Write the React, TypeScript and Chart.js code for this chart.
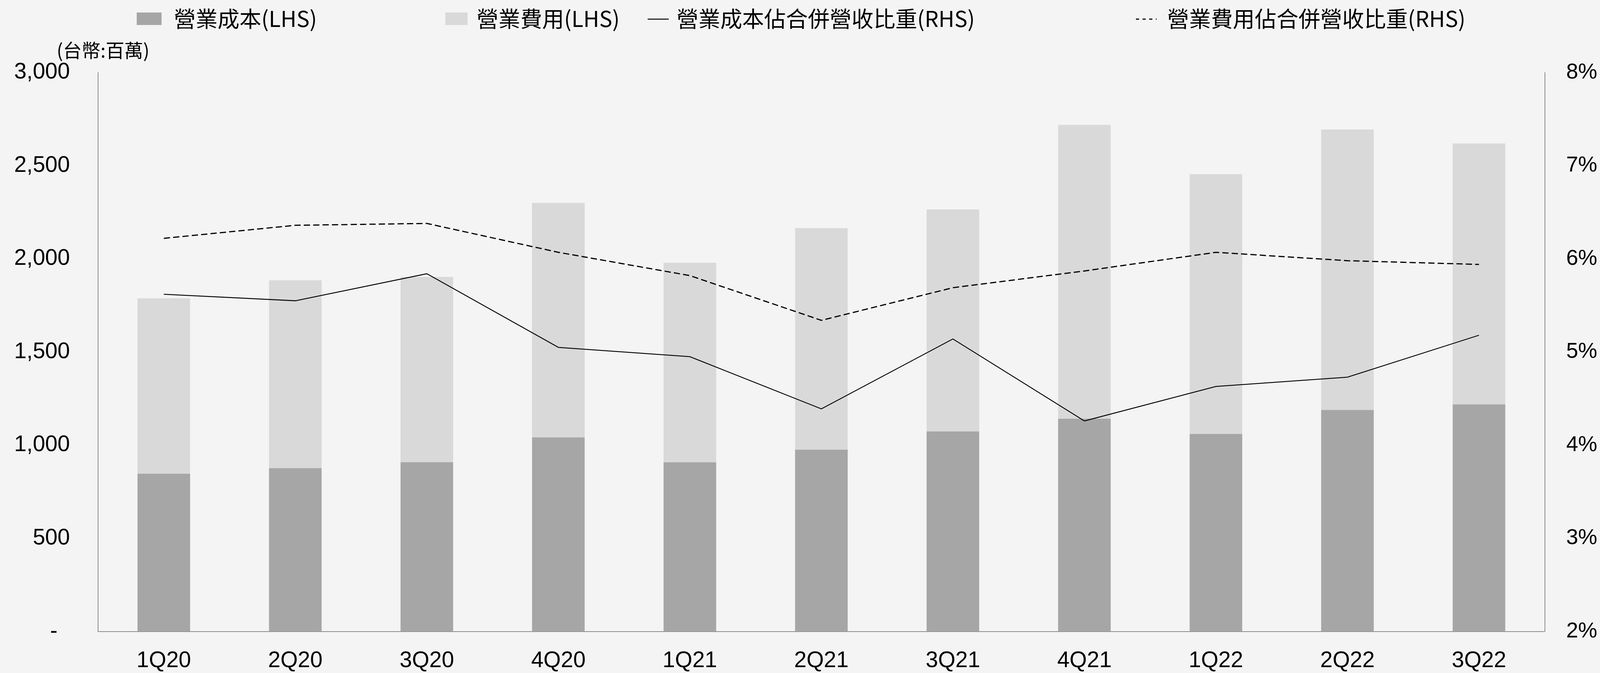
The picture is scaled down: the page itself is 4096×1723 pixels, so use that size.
import React, { useEffect, useRef } from 'react';
import { Chart, registerables } from 'chart.js';

Chart.register(...registerables);

// ---------------- data ----------------
const categories = ['1Q20', '2Q20', '3Q20', '4Q20', '1Q21', '2Q21', '3Q21', '4Q21', '1Q22', '2Q22', '3Q22'];
const costValues = [847, 877, 909, 1042, 908, 976, 1074, 1142, 1060, 1189, 1219];
const expenseValues = [941, 1008, 994, 1258, 1071, 1189, 1191, 1577, 1394, 1505, 1400];
const costRatio = [5.62, 5.55, 5.84, 5.05, 4.95, 4.39, 5.14, 4.26, 4.63, 4.73, 5.18];
const expenseRatio = [6.22, 6.36, 6.38, 6.07, 5.82, 5.34, 5.69, 5.87, 6.07, 5.98, 5.94];
const seriesLabels = ['營業成本(LHS)', '營業費用(LHS)', '營業成本佔合併營收比重(RHS)', '營業費用佔合併營收比重(RHS)'];
const unitLabel = '(台幣:百萬)';
const leftAxis = { min: 0, max: 3000, step: 500 };
const rightAxis = { min: 2, max: 8, step: 1 };

// ---------------- style / layout ----------------
const W = 4096;
const H = 1723;
const BG = '#f4f4f4';
const DARK = '#a6a6a6';
const LIGHT = '#d9d9d9';
const AXIS = '#8c8c8c';
const NUM_FONT = '"Liberation Sans", Arial, sans-serif';
const CJK_FONT = '"Noto Sans CJK TC", "Noto Sans CJK SC", sans-serif';
const PLOT = { left: 251, right: 3954.5, top: 185.6, bottom: 1618.4 };
const LEGEND = [
  { kind: 'rect', color: DARK, x0: 350, x1: 413.6, text: 445 },
  { kind: 'rect', color: LIGHT, x0: 1140, x1: 1197, text: 1220 },
  { kind: 'line', color: '#000', x0: 1658, x1: 1712, text: 1732 },
  { kind: 'dot', color: '#000', x0: 2908, x1: 2961, text: 2988 },
];
const LEGEND_Y = 48;

const bgPlugin = {
  id: 'bgFill',
  beforeDraw(chart: any) {
    const ctx = chart.ctx;
    ctx.save();
    ctx.fillStyle = BG;
    ctx.fillRect(0, 0, chart.width, chart.height);
    ctx.restore();
  },
};

const legendPlugin = {
  id: 'customLegend',
  afterDraw(chart: any) {
    const ctx = chart.ctx;
    ctx.save();
    LEGEND.forEach((item, i) => {
      if (item.kind === 'rect') {
        ctx.fillStyle = item.color;
        ctx.fillRect(item.x0, LEGEND_Y - 16, item.x1 - item.x0, 32);
      } else {
        ctx.strokeStyle = item.color;
        ctx.lineWidth = item.kind === 'dot' ? 3 : 2.5;
        ctx.setLineDash(item.kind === 'dot' ? [8, 9] : []);
        ctx.beginPath();
        ctx.moveTo(item.x0, LEGEND_Y + 1);
        ctx.lineTo(item.x1, LEGEND_Y + 1);
        ctx.stroke();
        ctx.setLineDash([]);
      }
      ctx.fillStyle = '#000';
      ctx.font = `56px ${CJK_FONT}`;
      ctx.textAlign = 'left';
      ctx.textBaseline = 'middle';
      ctx.fillText(seriesLabels[i], item.text, LEGEND_Y);
    });
    ctx.font = `48px ${CJK_FONT}`;
    ctx.textBaseline = 'middle';
    ctx.fillText(unitLabel, 145, 129);
    ctx.restore();
  },
};

export default function App() {
  const ref = useRef<HTMLCanvasElement | null>(null);

  useEffect(() => {
    document.body.style.margin = '0';
    document.body.style.background = BG;
    if (!ref.current) return;
    const chart = new Chart(ref.current, {
      type: 'bar',
      data: {
        labels: categories,
        datasets: [
          {
            type: 'line',
            label: seriesLabels[2],
            data: costRatio,
            yAxisID: 'y1',
            borderColor: '#000',
            borderWidth: 2.3,
            pointRadius: 0,
            tension: 0,
            fill: false,
            order: 0,
          } as any,
          {
            type: 'line',
            label: seriesLabels[3],
            data: expenseRatio,
            yAxisID: 'y1',
            borderColor: '#000',
            borderWidth: 3,
            borderDash: [16, 8],
            pointRadius: 0,
            tension: 0,
            fill: false,
            order: 0,
          } as any,
          {
            type: 'bar',
            label: seriesLabels[0],
            data: costValues,
            yAxisID: 'y',
            backgroundColor: DARK,
            borderWidth: 0,
            stack: 's',
            barPercentage: 0.8,
            categoryPercentage: 0.5,
            order: 1,
          },
          {
            type: 'bar',
            label: seriesLabels[1],
            data: expenseValues,
            yAxisID: 'y',
            backgroundColor: LIGHT,
            borderWidth: 0,
            stack: 's',
            barPercentage: 0.8,
            categoryPercentage: 0.5,
            order: 1,
          },
        ],
      },
      options: {
        responsive: false,
        animation: false,
        maintainAspectRatio: false,
        layout: { padding: { top: PLOT.top, left: 0, right: 0, bottom: 0 } },
        plugins: {
          legend: { display: false },
          tooltip: { enabled: false },
        },
        scales: {
          x: {
            stacked: true,
            offset: true,
            grid: { display: false, drawTicks: false },
            border: { display: true, color: AXIS, width: 2 },
            ticks: { color: '#000', font: { family: NUM_FONT, size: 57 }, padding: 41, maxRotation: 0, autoSkip: false },
            afterFit: (s: any) => { s.height = H - PLOT.bottom; },
          },
          y: {
            type: 'linear',
            position: 'left',
            stacked: true,
            min: leftAxis.min,
            max: leftAxis.max,
            grid: { display: false, drawTicks: false },
            border: { display: true, color: AXIS, width: 2 },
            ticks: {
              stepSize: leftAxis.step,
              color: '#000',
              font: { family: NUM_FONT, size: 57 },
              padding: 72,
              callback: (v: any) => (Number(v) === 0 ? '-  ' : Number(v).toLocaleString('en-US')),
            },
            afterFit: (s: any) => { s.width = PLOT.left; },
          },
          y1: {
            type: 'linear',
            position: 'right',
            stacked: false,
            min: rightAxis.min,
            max: rightAxis.max,
            grid: { display: false, drawTicks: false },
            border: { display: true, color: AXIS, width: 2 },
            ticks: {
              stepSize: rightAxis.step,
              color: '#000',
              font: { family: NUM_FONT, size: 55 },
              padding: 55,
              callback: (v: any) => `${v}%`,
            },
            afterFit: (s: any) => { s.width = W - PLOT.right; },
          },
        },
      },
      plugins: [bgPlugin, legendPlugin],
    });
    return () => chart.destroy();
  }, []);

  return (
    <div style={{ width: W, height: H, background: BG }}>
      <canvas ref={ref} width={W} height={H} style={{ display: 'block', width: W, height: H }} />
    </div>
  );
}
